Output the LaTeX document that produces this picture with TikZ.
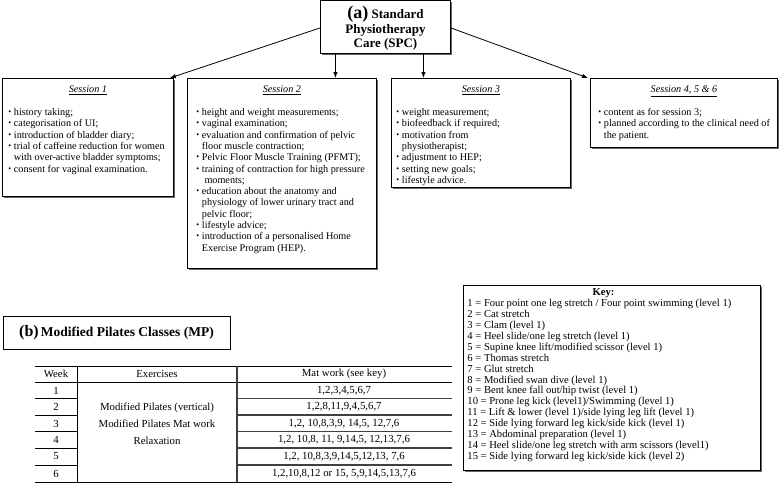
\documentclass[tikz,border=0pt]{standalone}
\usepackage{fontspec}
\setmainfont{Liberation Serif}
\usepackage{graphicx}
\usetikzlibrary{arrows.meta,shadows}
\newcommand{\bul}{\makebox[5.5pt][l]{\raisebox{.2ex}{\scalebox{.8}{\textbullet}}}}
\newcommand{\cont}{\hspace*{5.5pt}}
\newcommand{\sesstext}[4]{\parbox[t][#2][t]{#1}{\vspace*{7.5pt}\centering\underline{\textit{#3}}\par
  \vspace{11.5pt}\raggedright #4\par}}

\begin{document}
\begin{tikzpicture}[x=1pt,y=-1pt,
    >={Latex[length=6pt,width=4.5pt]},
    box/.style={draw,line width=0.9pt,fill=white,
      drop shadow={shadow xshift=1.2pt,shadow yshift=-1.2pt,fill=black!60,opacity=1}},
    sess/.style={box,anchor=north west,inner ysep=0pt,
      font=\fontsize{10.2}{11.3}\selectfont},
    cell/.style={font=\fontsize{10.8}{17}\selectfont,inner sep=0pt}]
  \useasboundingbox (0,0) rectangle (779,485);

  % (a) standard care and its sessions
  \node[box,anchor=north west,inner sep=0pt,
    font=\bfseries\fontsize{13}{14.7}\selectfont] (A) at (320,0)
    {\parbox[t][53pt][t]{130pt}{\centering\vspace*{0pt}\rule{0pt}{18pt}%
      {\fontsize{18}{14.7}\selectfont (a)} Standard\\Physiotherapy\\Care (SPC)}};
  \node[sess,inner xsep=6pt] (S1) at (2,78) {\sesstext{159pt}{118pt}{Session 1}{%
    \bul history taking;\\
    \bul categorisation of UI;\\
    \bul introduction of bladder diary;\\
    \bul trial of caffeine reduction for women\\
    \cont with over-active bladder symptoms;\\
    \bul consent for vaginal examination.}};
  \node[sess,inner xsep=9pt] (S2) at (187,78) {\sesstext{171pt}{190pt}{Session 2}{%
    \bul height and weight measurements;\\
    \bul vaginal examination;\\
    \bul evaluation and confirmation of pelvic\\
    \cont floor muscle contraction;\\
    \bul Pelvic Floor Muscle Training (PFMT);\\
    \bul training of contraction for high pressure\\
    \cont\ moments;\\
    \bul education about the anatomy and\\
    \cont physiology of lower urinary tract and\\
    \cont pelvic floor;\\
    \bul lifestyle advice;\\
    \bul introduction of a personalised Home\\
    \cont Exercise Program (HEP).}};
  \node[sess,inner xsep=5pt] (S3) at (391,78) {\sesstext{169pt}{109pt}{Session 3}{%
    \bul weight measurement;\\
    \bul biofeedback if required;\\
    \bul motivation from\\
    \cont physiotherapist;\\
    \bul adjustment to HEP;\\
    \bul setting new goals;\\
    \bul lifestyle advice.}};
  \node[sess,inner xsep=6pt] (S4) at (590,78) {\sesstext{175pt}{69pt}{Session 4, 5 \& 6}{%
    \hspace*{2pt}\bul content as for session 3;\\
    \hspace*{2pt}\bul planned according to the clinical need of\\
    \hspace*{2pt}\cont the patient.}};
  \path[->,line width=0.8pt] ([yshift=-1pt]A.west) edge ([xshift=-4pt]S1.north east);
  \path[->,line width=0.8pt] ([yshift=-1pt]A.east) edge ([xshift=-2pt]S4.north west);
  \draw[->,line width=0.8pt] ([xshift=-50pt]A.south) -- ([xshift=-50pt]A.south |- S2.north);
  \draw[->,line width=0.8pt] ([xshift=38pt]A.south) -- ([xshift=38pt]A.south |- S3.north);

  % (b) modified pilates classes
  \node[box,minimum width=227,minimum height=33,
    font=\bfseries\fontsize{13.5}{16}\selectfont] (B) at (116.5,332.5)
    {{\fontsize{16}{16}\selectfont (b)}\,Modified Pilates Classes (MP)};

  % table
  \draw[line width=0.7pt] (35,366) -- (452,366) (35,382) -- (452,382) (35,482) -- (452,482);
  \draw[line width=0.7pt] (77,366) -- (77,482);
  \draw[line width=1.1pt,black!75] (237,366) -- (237,482);
  \foreach \y in {398.5,415,431.5,448,465}{
    \draw[line width=0.7pt] (35,\y) -- (77,\y);
    \draw[line width=1.1pt,black!75] (237,\y) -- (452,\y);
  }
  \node[cell] (W0) at (56,374) {Week};
  \node[cell] (E0) at (157,374) {Exercises};
  \node[cell] (M0) at (344,374) {Mat work (see key)};
  \node[cell] (W1) at (56,390.5) {1};
  \node[cell] (W2) at (56,407) {2};
  \node[cell] (W3) at (56,423.5) {3};
  \node[cell] (W4) at (56,440) {4};
  \node[cell] (W5) at (56,456.5) {5};
  \node[cell] (W6) at (56,473.5) {6};
  \node[cell,align=center] (EX) at (157,424)
    {Modified Pilates (vertical)\\Modified Pilates Mat work\\Relaxation};
  \node[cell] (M1) at (344,390.5) {1,2,3,4,5,6,7};
  \node[cell] (M2) at (344,407) {1,2,8,11,9,4,5,6,7};
  \node[cell] (M3) at (344,423.5) {1,2, 10,8,3,9, 14,5, 12,7,6};
  \node[cell] (M4) at (344,440) {1,2, 10,8, 11, 9,14,5, 12,13,7,6};
  \node[cell] (M5) at (344,456.5) {1,2, 10,8,3,9,14,5,12,13, 7,6};
  \node[cell] (M6) at (344,473.5) {1,2,10,8,12 or 15, 5,9,14,5,13,7,6};

  % key
  \node[box,anchor=north west,inner xsep=4pt,inner ysep=0pt,
    font=\fontsize{10.6}{10.9}\selectfont] (K) at (463,285)
    {\parbox[t][185pt][t]{289pt}{\vspace*{3.5pt}
      \centering\textbf{Key:}\hspace*{17pt}\par\raggedright
      1 = Four point one leg stretch / Four point swimming (level 1)\\
      2 = Cat stretch\\
      3 = Clam (level 1)\\
      4 = Heel slide/one leg stretch (level 1)\\
      5 = Supine knee lift/modified scissor (level 1)\\
      6 = Thomas stretch\\
      7 = Glut stretch\\
      8 = Modified swan dive (level 1)\\
      9 = Bent knee fall out/hip twist (level 1)\\
      10 = Prone leg kick (level1)/Swimming (level 1)\\
      11 = Lift \& lower (level 1)/side lying leg lift (level 1)\\
      12 = Side lying forward leg kick/side kick (level 1)\\
      13 = Abdominal preparation (level 1)\\
      14 = Heel slide/one leg stretch with arm scissors (level1)\\
      15 = Side lying forward leg kick/side kick (level 2)\par}};
\end{tikzpicture}
\end{document}
